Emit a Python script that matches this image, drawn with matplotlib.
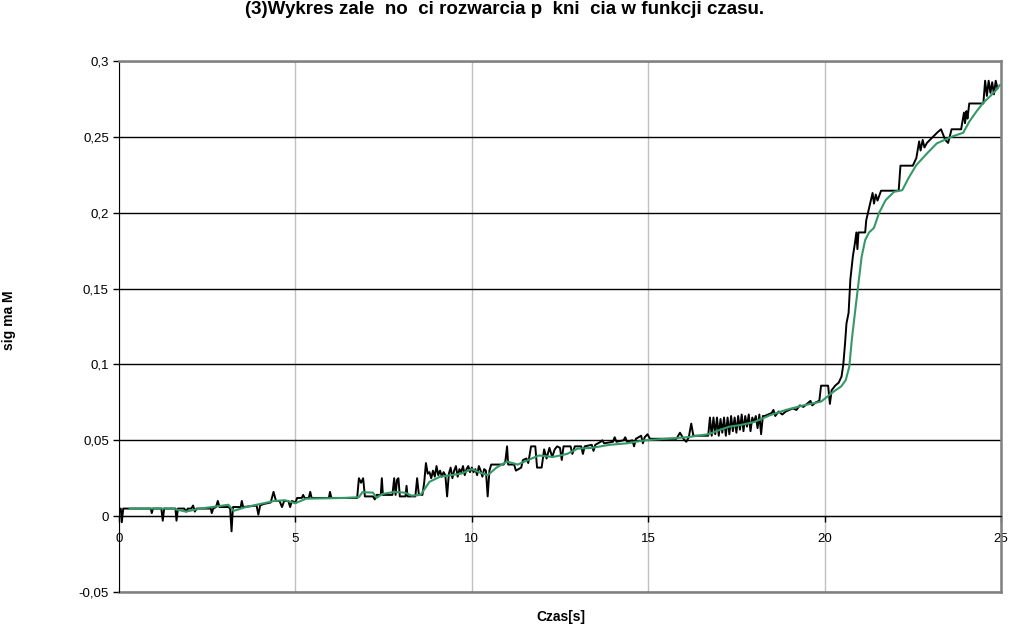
import matplotlib
matplotlib.use('Agg')
import matplotlib.pyplot as plt
from matplotlib.ticker import FuncFormatter

plt.rcParams['font.family'] = ['Liberation Sans', 'DejaVu Sans']

# pomiar (czarna linia) - czas [s]
czas_pomiar = [0.00, 0.05, 0.08, 0.12, 0.90, 0.93, 0.96, 1.20, 1.24, 1.28, 1.60, 1.63, 1.67,
               1.85, 1.90, 1.95, 2.05, 2.10, 2.15, 2.20, 2.60, 2.63, 2.67, 2.75, 2.80, 2.85,
               3.10, 3.15, 3.19, 3.23, 3.45, 3.48, 3.52, 3.90, 3.95, 4.00, 4.10, 4.30, 4.38,
               4.45, 4.55, 4.62, 4.68, 4.80, 4.85, 4.90, 5.00, 5.05, 5.18, 5.22, 5.26, 5.38,
               5.42, 5.46, 5.95, 5.98, 6.02, 6.75, 6.80, 6.86, 6.92, 6.97, 7.20, 7.25, 7.30,
               7.42, 7.45, 7.48, 7.75, 7.80, 7.84, 7.88, 7.92, 7.96, 8.12, 8.15, 8.18, 8.40,
               8.45, 8.50, 8.60, 8.65, 8.70, 8.75, 8.80, 8.85, 8.90, 8.95, 9.00, 9.05, 9.10,
               9.15, 9.20, 9.25, 9.30, 9.35, 9.40, 9.45, 9.50, 9.55, 9.60, 9.65, 9.70, 9.75,
               9.80, 9.85, 9.90, 9.95, 10.00, 10.05, 10.10, 10.15, 10.20, 10.25, 10.30, 10.35,
               10.40, 10.45, 10.50, 10.55, 10.90, 10.95, 11.00, 11.03, 11.20, 11.25, 11.40,
               11.45, 11.55, 11.60, 11.68, 11.80, 11.85, 11.98, 12.05, 12.12, 12.20, 12.28,
               12.35, 12.42, 12.50, 12.55, 12.60, 12.80, 12.85, 12.92, 13.05, 13.10, 13.15,
               13.20, 13.40, 13.45, 13.50, 13.65, 13.70, 13.75, 14.00, 14.05, 14.10, 14.30,
               14.35, 14.40, 14.55, 14.60, 14.65, 14.80, 14.85, 14.90, 14.98, 15.05, 15.80,
               15.90, 16.00, 16.08, 16.15, 16.22, 16.28, 16.70, 16.75, 16.80, 16.85, 16.90,
               16.95, 17.00, 17.05, 17.10, 17.15, 17.20, 17.25, 17.30, 17.35, 17.40, 17.45,
               17.50, 17.55, 17.60, 17.65, 17.70, 17.75, 17.80, 17.85, 17.90, 17.95, 18.00,
               18.05, 18.10, 18.15, 18.20, 18.25, 18.30, 18.50, 18.55, 18.60, 18.70, 18.80,
               18.90, 19.00, 19.10, 19.20, 19.30, 19.40, 19.50, 19.60, 19.65, 19.75, 19.85,
               19.90, 20.10, 20.15, 20.20, 20.30, 20.40, 20.48, 20.53, 20.58, 20.62, 20.68,
               20.73, 20.80, 20.86, 20.90, 20.93, 20.96, 21.15, 21.18, 21.30, 21.36, 21.40,
               21.45, 21.50, 21.60, 22.10, 22.15, 22.50, 22.60, 22.68, 22.72, 22.78, 22.83,
               22.90, 23.20, 23.30, 23.42, 23.50, 23.60, 23.87, 23.95, 23.98, 24.02, 24.05,
               24.10, 24.50, 24.55, 24.60, 24.65, 24.70, 24.75, 24.80, 24.85, 24.90]
sigma_pomiar = [0.003, 0.005, -0.004, 0.005, 0.005, 0.002, 0.005, 0.005, -0.003, 0.005, 0.005,
                -0.003, 0.005, 0.005, 0.003, 0.005, 0.005, 0.007, 0.003, 0.005, 0.005, 0.002,
                0.005, 0.006, 0.010, 0.006, 0.006, 0.005, -0.010, 0.006, 0.006, 0.010, 0.006,
                0.007, 0.001, 0.007, 0.008, 0.009, 0.016, 0.010, 0.010, 0.006, 0.010, 0.010,
                0.006, 0.010, 0.009, 0.012, 0.012, 0.014, 0.012, 0.012, 0.016, 0.012, 0.012,
                0.016, 0.012, 0.012, 0.025, 0.022, 0.025, 0.013, 0.013, 0.011, 0.014, 0.014,
                0.025, 0.014, 0.014, 0.025, 0.014, 0.024, 0.025, 0.013, 0.013, 0.020, 0.013,
                0.013, 0.025, 0.014, 0.014, 0.022, 0.035, 0.028, 0.029, 0.025, 0.030, 0.026,
                0.033, 0.027, 0.030, 0.026, 0.029, 0.027, 0.013, 0.028, 0.032, 0.025, 0.030,
                0.033, 0.026, 0.031, 0.029, 0.033, 0.027, 0.031, 0.033, 0.029, 0.032, 0.029,
                0.031, 0.027, 0.033, 0.030, 0.026, 0.031, 0.030, 0.013, 0.030, 0.034, 0.034,
                0.036, 0.046, 0.034, 0.034, 0.030, 0.032, 0.037, 0.038, 0.035, 0.046, 0.046,
                0.032, 0.032, 0.044, 0.038, 0.045, 0.039, 0.044, 0.046, 0.045, 0.037, 0.046,
                0.046, 0.041, 0.046, 0.046, 0.046, 0.041, 0.046, 0.047, 0.043, 0.047, 0.049,
                0.050, 0.048, 0.049, 0.052, 0.049, 0.050, 0.052, 0.049, 0.050, 0.046, 0.051,
                0.053, 0.048, 0.052, 0.054, 0.051, 0.051, 0.055, 0.051, 0.049, 0.052, 0.061,
                0.053, 0.053, 0.065, 0.053, 0.065, 0.054, 0.065, 0.053, 0.064, 0.055, 0.065,
                0.053, 0.065, 0.054, 0.066, 0.056, 0.065, 0.055, 0.066, 0.057, 0.067, 0.056,
                0.066, 0.059, 0.067, 0.056, 0.065, 0.062, 0.066, 0.058, 0.067, 0.054, 0.066,
                0.066, 0.068, 0.070, 0.066, 0.069, 0.067, 0.069, 0.070, 0.071, 0.070, 0.073,
                0.072, 0.074, 0.076, 0.073, 0.075, 0.076, 0.086, 0.086, 0.074, 0.083, 0.086,
                0.088, 0.092, 0.100, 0.114, 0.127, 0.134, 0.156, 0.171, 0.180, 0.187, 0.176,
                0.187, 0.187, 0.195, 0.207, 0.213, 0.206, 0.212, 0.208, 0.2145, 0.2145, 0.231,
                0.231, 0.236, 0.247, 0.241, 0.248, 0.243, 0.246, 0.253, 0.255, 0.248, 0.246,
                0.255, 0.255, 0.266, 0.259, 0.267, 0.262, 0.272, 0.272, 0.287, 0.277, 0.287,
                0.279, 0.286, 0.278, 0.287, 0.282]

# srednia ruchoma (zielona linia)
czas_srednia = [0.3, 1.5, 1.9, 2.3, 2.8, 3.1, 3.25, 3.6, 4.1, 4.4, 4.7, 5.0, 5.3, 6.4, 6.8,
                6.9, 7.2, 7.3, 7.45, 7.8, 8.1, 8.3, 8.55, 8.8, 9.1, 9.4, 9.7, 10.0, 10.2,
                10.45, 10.7, 11.0, 11.3, 11.6, 11.9, 12.3, 12.7, 13.0, 13.4, 13.9, 14.4,
                14.9, 15.5, 16.1, 16.7, 17.05, 17.3, 17.6, 18.0, 18.45, 18.9, 19.4, 19.9,
                20.25, 20.47, 20.6, 20.7, 20.77, 20.87, 20.96, 21.05, 21.15, 21.26, 21.4,
                21.54, 21.73, 21.97, 22.2, 22.4, 22.6, 22.9, 23.18, 23.47, 23.65, 23.93,
                24.1, 24.3, 24.49, 24.68, 24.87, 24.96]
sigma_srednia = [0.005, 0.005, 0.003, 0.005, 0.0065, 0.0075, 0.0035, 0.006, 0.0085, 0.010,
                 0.0105, 0.0085, 0.0115, 0.012, 0.0125, 0.0158, 0.0155, 0.012, 0.0145, 0.016,
                 0.0155, 0.0135, 0.014, 0.0226, 0.026, 0.027, 0.028, 0.031, 0.029, 0.027,
                 0.032, 0.036, 0.034, 0.037, 0.040, 0.039, 0.041, 0.0445, 0.045, 0.047, 0.048,
                 0.050, 0.051, 0.052, 0.054, 0.057, 0.059, 0.060, 0.062, 0.0665, 0.070, 0.073,
                 0.0755, 0.082, 0.0855, 0.0897, 0.0985, 0.116, 0.136, 0.1535, 0.171, 0.182,
                 0.187, 0.190, 0.1997, 0.2083, 0.2138, 0.2148, 0.2237, 0.2314, 0.239, 0.2457,
                 0.2487, 0.2505, 0.2527, 0.260, 0.2666, 0.2723, 0.2765, 0.281, 0.284]

y_ticks = [-0.05, 0, 0.05, 0.1, 0.15, 0.2, 0.25, 0.3]
x_ticks = [0, 5, 10, 15, 20, 25]

fig = plt.figure(figsize=(10.1, 6.28), dpi=100)
ax = fig.add_axes([119 / 1010, 1 - 592 / 628, 882 / 1010, 531 / 628])

ax.plot(czas_pomiar, sigma_pomiar, color='black', lw=1.4, zorder=3)
ax.plot(czas_srednia, sigma_srednia, color='#339966', lw=1.5, zorder=4)

ax.set_xlim(0, 25)
ax.set_ylim(-0.05, 0.3)
ax.set_xticks(x_ticks)
ax.set_yticks(y_ticks)
ax.yaxis.set_major_formatter(FuncFormatter(lambda v, p: ('%g' % round(v, 2)).replace('.', ',')))
ax.xaxis.set_major_formatter(FuncFormatter(lambda v, p: '%d' % v))

# siatka: pionowa szara, pozioma czarna
ax.xaxis.grid(True, color='#c0c0c0', lw=1)
ax.yaxis.grid(True, color='black', lw=1)
ax.set_axisbelow(True)

ax.spines['bottom'].set_position(('data', 0))
ax.spines['bottom'].set_color('black')
ax.spines['left'].set_color('black')
ax.spines['top'].set_color('#808080')
ax.spines['right'].set_color('#808080')
ax.spines['top'].set_linewidth(1.8)
ax.spines['right'].set_linewidth(1.8)
ax.axhline(-0.05, color='#808080', lw=1.8, clip_on=False)

ax.tick_params(axis='y', direction='out', length=4.3, pad=3, labelsize=9.5, width=1)
ax.tick_params(axis='x', direction='out', length=4, pad=8, labelsize=9.5, width=1)

fig.text(0.5, 1 - 10 / 628, '(3)Wykres zale  no  ci rozwarcia p  kni  cia w funkcji czasu.',
         ha='center', va='center', fontsize=13.5, fontweight='bold')
fig.text(561 / 1010, 1 - 617 / 628, 'Czas[s]', ha='center', va='center',
         fontsize=10, fontweight='bold')
fig.text(9 / 1010, 1 - 320 / 628, 'sig ma M', ha='center', va='center', rotation=90,
         fontsize=10, fontweight='bold')

fig.savefig('out.png', dpi=100)
